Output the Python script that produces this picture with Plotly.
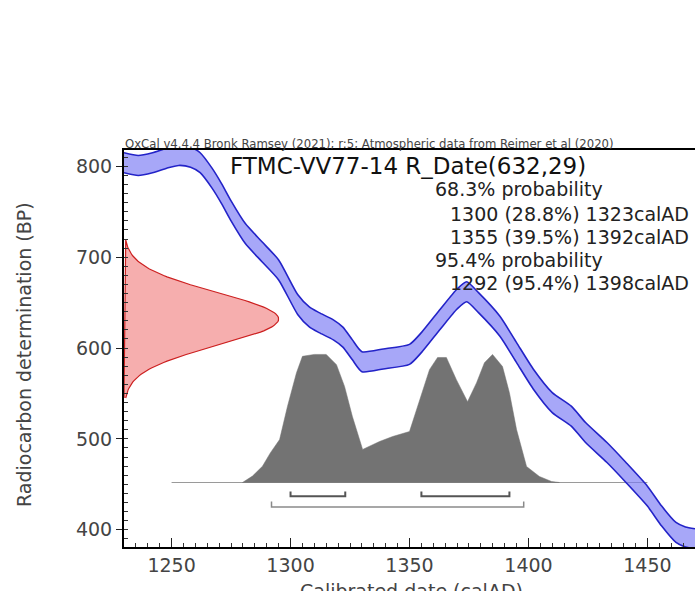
import plotly.graph_objects as go
import numpy as np

# ---------------- data ----------------
SAMPLE_NAME = "FTMC-VV77-14"
R_DATE_MEAN = 632
R_DATE_SD = 29
HEADER = "OxCal v4.4.4 Bronk Ramsey (2021); r:5; Atmospheric data from Reimer et al (2020)"

# calibration curve (IntCal20 excerpt): year AD, BP centre, 1-sigma
CURVE_YEAR = [1230, 1236, 1242, 1248, 1253, 1258, 1262, 1267, 1271, 1275, 1281, 1288,
              1295, 1303, 1308, 1312, 1318, 1322, 1326, 1330, 1339, 1350, 1355, 1363,
              1370, 1374, 1379, 1388, 1395, 1402, 1410, 1418, 1424, 1433, 1441, 1450,
              1456, 1462, 1466, 1470]
CURVE_BP = [804, 801, 804, 809, 812, 810, 804, 787, 770, 751, 726, 706,
            686, 648, 634, 628, 620, 612, 598, 585, 588, 593, 606, 632,
            654, 662, 650, 624, 595, 566, 540, 525, 507, 485, 463, 437,
            415, 397, 392, 390]
CURVE_SD = [11] * len(CURVE_YEAR)

# posterior (calibrated) probability, relative
POST_YEAR = [1279.8, 1284.0, 1288.2, 1291.5, 1295.4, 1298.7, 1302.5, 1305.0, 1310.0,
             1315.0, 1319.3, 1322.7, 1326.0, 1330.3, 1337.4, 1342.9, 1350.0, 1353.4,
             1358.4, 1361.8, 1365.5, 1369.7, 1374.4, 1378.2, 1381.5, 1384.9, 1389.1,
             1392.0, 1395.0, 1399.2, 1404.6, 1409.7, 1413.0]
POST_PROB = [0.0, 0.05, 0.127, 0.231, 0.335, 0.593, 0.857, 0.985, 1.0,
             1.0, 0.92, 0.75, 0.515, 0.258, 0.32, 0.359, 0.398, 0.593,
             0.881, 0.976, 0.976, 0.803, 0.631, 0.779, 0.935, 1.0, 0.905,
             0.701, 0.413, 0.125, 0.047, 0.008, 0.0]

# probability ranges: (from, to, percent)
RANGES_68 = [(1300, 1323, 28.8), (1355, 1392, 39.5)]
RANGES_95 = [(1292, 1398, 95.4)]

X_TICKS = [1250, 1300, 1350, 1400, 1450]
Y_TICKS = [400, 500, 600, 700, 800]

# ---------------- style / layout ----------------
W, H = 695, 591
L, R, T, B = 124, 695, 150, 547  # plot box in page pixels
X_RANGE = [1230, 1470]
Y_RANGE = [381, 818]
FONT = "DejaVu Sans"

POST_BASE = 452      # BP level used as baseline for the posterior plot
POST_HEIGHT = 141    # BP span of the posterior maximum
POST_LINE_X = [1250, 1450]
RED_WIDTH = 65       # years width of R_Date distribution peak


def px_x(x):
    return (x - L) / (R - L)


def px_y(y):
    return (B - y) / (B - T)


fig = go.Figure()

# posterior baseline
fig.add_trace(go.Scatter(x=POST_LINE_X, y=[POST_BASE, POST_BASE], mode="lines",
                         line=dict(color="#9a9a9a", width=1), hoverinfo="skip"))

# posterior distribution
py = [POST_BASE + p * POST_HEIGHT for p in POST_PROB]
fig.add_trace(go.Scatter(x=POST_YEAR + [POST_YEAR[0]], y=py + [py[0]], mode="lines",
                         fill="toself", fillcolor="#737373",
                         line=dict(color="#737373", width=0.5), hoverinfo="skip"))


# range brackets
def bracket(a, b, level, tick, color, width):
    fig.add_trace(go.Scatter(x=[a, a, b, b], y=[level + tick, level, level, level + tick],
                             mode="lines", line=dict(color=color, width=width),
                             hoverinfo="skip"))


for a, b, _ in RANGES_68:
    bracket(a, b, POST_BASE - 15, 5, "#555555", 2)
for a, b, _ in RANGES_95:
    bracket(a, b, POST_BASE - 27, 6, "#8a8a8a", 1.5)

# R_Date normal distribution along y axis
bp = np.linspace(R_DATE_MEAN - 3 * R_DATE_SD, R_DATE_MEAN + 3 * R_DATE_SD, 121)
dens = np.exp(-0.5 * ((bp - R_DATE_MEAN) / R_DATE_SD) ** 2)
rx = X_RANGE[0] + RED_WIDTH * dens
fig.add_trace(go.Scatter(x=list(rx) + [X_RANGE[0]], y=list(bp) + [bp[0]], mode="lines",
                         fill="toself", fillcolor="rgba(240,120,120,0.6)",
                         line=dict(color="#cc2020", width=1.2), hoverinfo="skip"))

# calibration curve band
upper = [c + s for c, s in zip(CURVE_BP, CURVE_SD)]
lower = [c - s for c, s in zip(CURVE_BP, CURVE_SD)]
fig.add_trace(go.Scatter(x=CURVE_YEAR, y=upper, mode="lines",
                         line=dict(color="#2323c8", width=1.6, shape="spline", smoothing=0.6),
                         hoverinfo="skip"))
fig.add_trace(go.Scatter(x=CURVE_YEAR, y=lower, mode="lines", fill="tonexty",
                         fillcolor="rgba(120,120,245,0.65)",
                         line=dict(color="#2323c8", width=1.6, shape="spline", smoothing=0.6),
                         hoverinfo="skip"))

ann = []
ann.append(dict(text=HEADER, x=px_x(123), y=px_y(144), xref="paper", yref="paper",
                xanchor="left", yanchor="middle", showarrow=False,
                font=dict(family=FONT, size=11.7, color="#444444")))
ann.append(dict(text=f"{SAMPLE_NAME} R_Date({R_DATE_MEAN},{R_DATE_SD})",
                x=px_x(228), y=px_y(166), xref="paper", yref="paper",
                xanchor="left", yanchor="middle", showarrow=False,
                font=dict(family=FONT, size=23, color="#111111")))
lines = [("68.3% probability", 433, 189, "left")]
yy = 214
for a, b, p in RANGES_68:
    lines.append((f"{a} ({p}%) {b}calAD", 691, yy, "right"))
    yy += 23
lines.append(("95.4% probability", 433, yy, "left"))
yy += 23
for a, b, p in RANGES_95:
    lines.append((f"{a} ({p}%) {b}calAD", 691, yy, "right"))
    yy += 23
for t, x, y, anc in lines:
    ann.append(dict(text=t, x=px_x(x), y=px_y(y), xref="paper", yref="paper",
                    xanchor=anc, yanchor="middle", showarrow=False,
                    font=dict(family=FONT, size=19, color="#222222")))
ann.append(dict(text="Radiocarbon determination (BP)", x=px_x(24), y=px_y(355),
                xref="paper", yref="paper", xanchor="center", yanchor="middle",
                textangle=-90, showarrow=False,
                font=dict(family=FONT, size=19, color="#444444")))
ann.append(dict(text="Calibrated date (calAD)", x=px_x(411), y=px_y(578),
                xref="paper", yref="paper", xanchor="center", yanchor="top",
                showarrow=False, font=dict(family=FONT, size=19, color="#444444")))

fig.update_layout(
    width=W, height=H,
    margin=dict(l=L, r=W - R, t=T, b=H - B, pad=0),
    paper_bgcolor="white", plot_bgcolor="white",
    showlegend=False,
    annotations=ann,
    xaxis=dict(range=X_RANGE, tickvals=X_TICKS, ticks="inside", ticklen=9, tickwidth=1.2,
               tickcolor="#222", showline=True, linecolor="black", linewidth=2, mirror=True,
               showgrid=False, zeroline=False,
               tickfont=dict(family=FONT, size=19, color="#444444"),
               minor=dict(dtick=5, ticks="inside", ticklen=4, tickcolor="#333", showgrid=False)),
    yaxis=dict(range=Y_RANGE, tickvals=Y_TICKS, ticks="outside", ticklen=6, tickwidth=1.2,
               tickcolor="#222", showline=True, linecolor="black", linewidth=2, mirror=False,
               showgrid=False, zeroline=False,
               tickfont=dict(family=FONT, size=19, color="#444444"),
               minor=dict(dtick=10, ticks="inside", ticklen=4, tickcolor="#333", showgrid=False)),
)

fig.write_html("out.html", config={"displayModeBar": False},
               post_script="document.body.style.margin='0';document.body.style.overflow='hidden';")
